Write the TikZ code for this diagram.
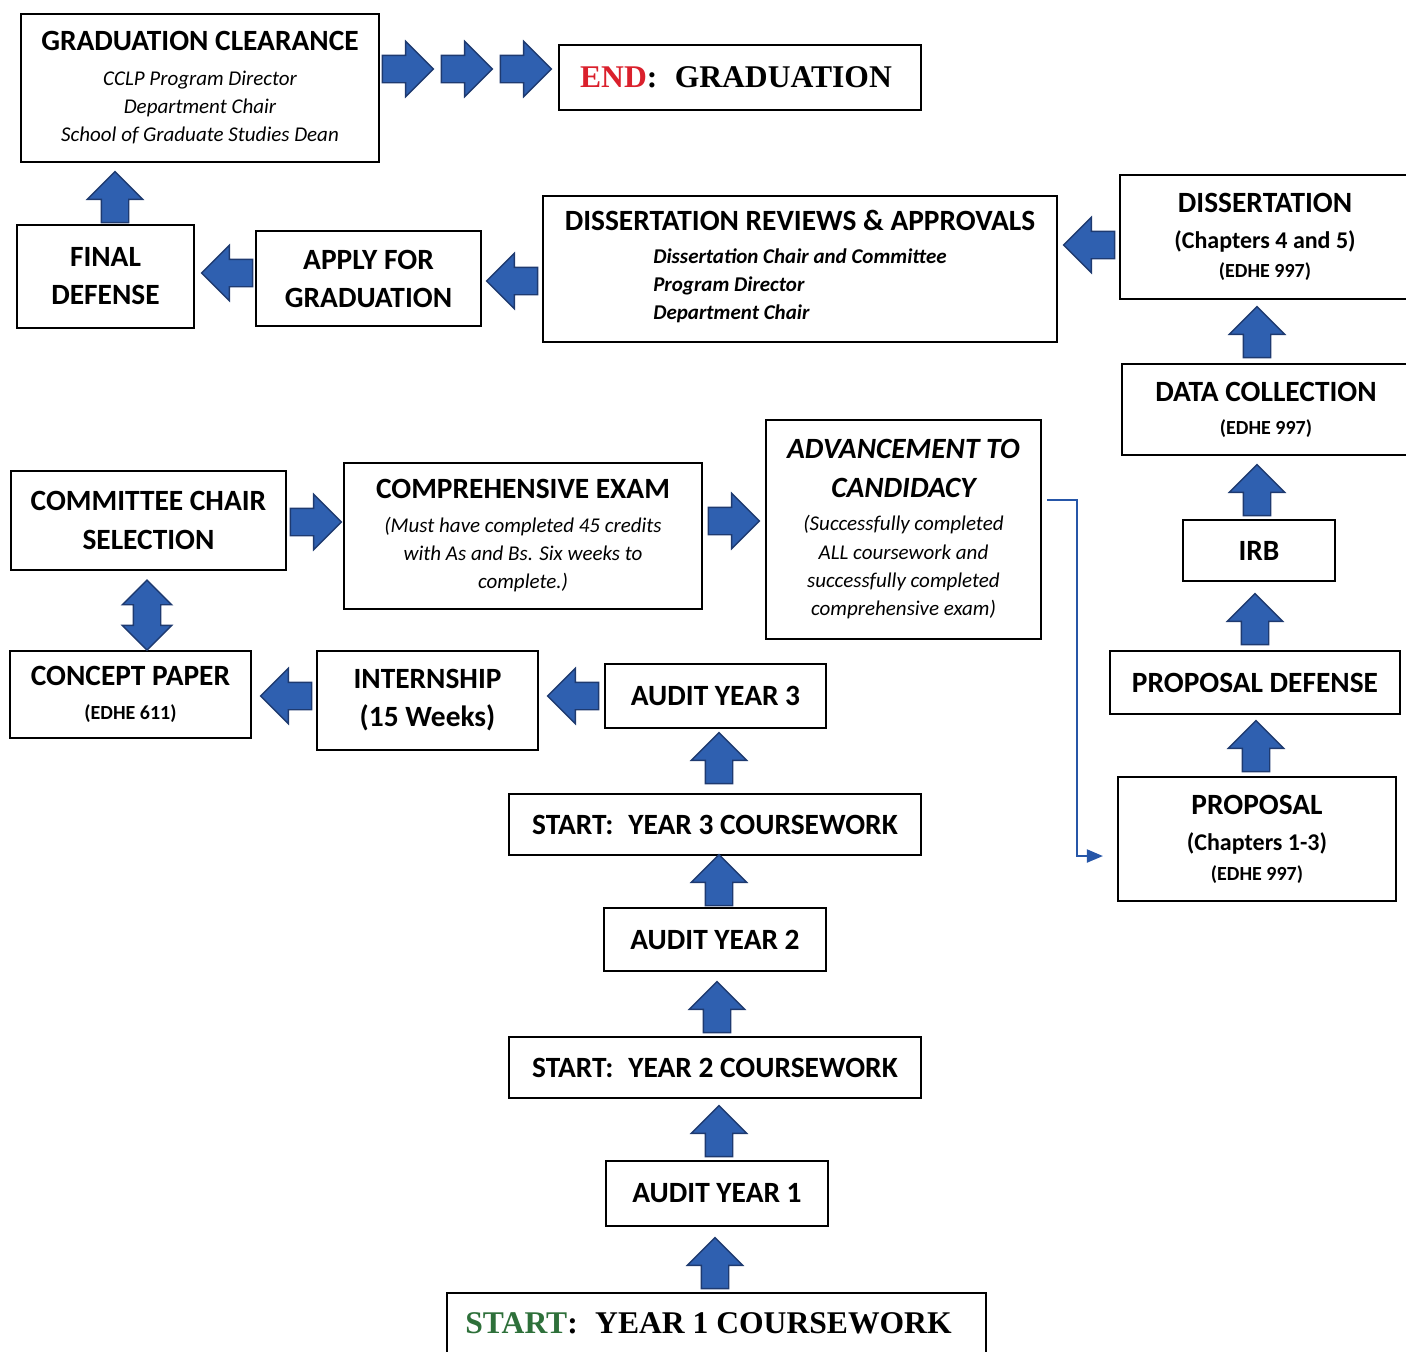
\documentclass[tikz,border=0pt]{standalone}
\usepackage{fontspec}
\setmainfont{Carlito}
\newfontfamily\serifbf{Liberation Serif}
\usetikzlibrary{shapes.arrows,arrows.meta}
\definecolor{arrowBlue}{RGB}{47,96,176}
\definecolor{arrowEdge}{RGB}{30,58,112}
\definecolor{linkBlue}{RGB}{38,86,168}
\definecolor{endRed}{RGB}{218,32,44}
\definecolor{startGreen}{RGB}{46,112,58}
\newcommand{\titleFont}{\fontsize{14.7}{19}\selectfont\upshape\bfseries}
\newcommand{\noteFont}{\fontsize{10.5}{14}\selectfont\itshape}
\newcommand{\subFont}{\fontsize{12}{14.5}\selectfont\bfseries}
\newcommand{\codeFont}{\fontsize{10}{14}\selectfont\bfseries}
\newcommand{\serifFont}{\fontsize{15.8}{19}\selectfont\serifbf\bfseries}
\tikzset{stepbox/.style 2 args={draw, line width=1.1pt, inner sep=0pt, align=center,
    minimum width=#1*0.5pt, minimum height=#2*0.5pt}}
\tikzstyle{blockArrow} = [single arrow, draw=arrowEdge, fill=arrowBlue, line width=.7pt,
  inner sep=6.5pt, single arrow head extend=7pt, minimum height=25.5pt, minimum width=0pt]
\tikzstyle{rightArrow} = [blockArrow, xshift=-3.5pt]
\tikzstyle{leftArrow} = [blockArrow, shape border rotate=180, xshift=3.5pt]
\tikzstyle{upArrow} = [blockArrow, shape border rotate=90, yshift=-3.5pt]
\tikzstyle{bothArrow} = [double arrow, shape border rotate=90, draw=arrowEdge, fill=arrowBlue,
  line width=.7pt, inner sep=6.5pt, double arrow head extend=5.5pt, minimum height=35pt, minimum width=0pt]
\tikzstyle{linkLine} = [linkBlue, line width=1pt, -{Triangle[length=8pt,width=6.5pt]}]

\begin{document}
\begin{tikzpicture}[x=0.5pt, y=-0.5pt]
  \useasboundingbox (0,0) rectangle (1406,1351);
  % top row
  \node[stepbox={358}{148}, font=\noteFont] (clear) at (200,88)
    {{\titleFont GRADUATION CLEARANCE}\\[3.5pt] CCLP Program Director\\ Department Chair\\ School of Graduate Studies Dean};
  \node[stepbox={362}{65}, font=\serifFont] (endg) at (740,77.5)
    {\textcolor{endRed}{END}:\hspace{.55em}GRADUATION\kern4pt};
  \node[rightArrow] (r1) at (408,69) {};
  \node[rightArrow] (r2) at (467,69) {};
  \node[rightArrow] (r3) at (526,69) {};
  % second row
  \node[stepbox={177}{103}, font=\titleFont] (final) at (105.5,276.5) {FINAL\\DEFENSE};
  \node[stepbox={225}{95}, font=\titleFont] (apply) at (368.5,278.5) {APPLY FOR\\GRADUATION};
  \node[stepbox={514}{146}, font=\noteFont\bfseries] (review) at (800,269)
    {{\titleFont DISSERTATION REVIEWS \& APPROVALS}\\[2.5pt]
     \begin{tabular}[t]{@{}l@{}}Dissertation Chair and Committee\\ Program Director\\ Department Chair\end{tabular}};
  \node[stepbox={290}{124}, font=\subFont] (diss) at (1265,237)
    {{\titleFont DISSERTATION}\\[3.5pt](Chapters 4 and 5)\\{\codeFont (EDHE 997)}};
  \node[upArrow] (u1) at (115,197) {};
  \node[leftArrow] (l1) at (227,273) {};
  \node[leftArrow] (l2) at (512,281) {};
  \node[leftArrow] (l3) at (1089,245) {};
  % right column
  \node[stepbox={288}{91}, font=\subFont] (data) at (1266,409.5)
    {{\titleFont DATA COLLECTION}\\[2pt]{\codeFont (EDHE 997)}};
  \node[stepbox={152}{61}, font=\titleFont] (irb) at (1259,550.5) {IRB};
  \node[stepbox={290}{63}, font=\titleFont] (pdef) at (1255,682.5) {PROPOSAL DEFENSE};
  \node[stepbox={278}{124}, font=\subFont] (prop) at (1257,839)
    {{\titleFont PROPOSAL}\\[3.5pt](Chapters 1-3)\\[.5pt]{\codeFont (EDHE 997)}};
  \node[upArrow] (u2) at (1257,332) {};
  \node[upArrow] (u3) at (1257,490) {};
  \node[upArrow] (u4) at (1255,619) {};
  \node[upArrow] (u5) at (1256,746) {};
  % middle rows
  \node[stepbox={275}{219}, font=\noteFont] (adv) at (903.5,529.5)
    {{\titleFont\itshape ADVANCEMENT TO}\\[5.5pt]{\titleFont\itshape CANDIDACY}\\[2.5pt](Successfully completed\\[.5pt]ALL coursework and\\successfully completed\\comprehensive exam)};
  \node[stepbox={358}{146}, font=\noteFont] (comp) at (523,536)
    {{\titleFont COMPREHENSIVE EXAM}\\[3pt](Must have completed 45 credits\\with As and Bs. Six weeks to\\complete.)};
  \node[stepbox={275}{99}, font=\titleFont] (chair) at (148.5,520.5) {COMMITTEE CHAIR\\[.5pt]SELECTION};
  \node[stepbox={241}{87}, font=\subFont] (concept) at (130.5,694.5)
    {{\titleFont CONCEPT PAPER}\\[2.5pt]{\codeFont (EDHE 611)}};
  \node[stepbox={221}{99}, font=\titleFont] (intern) at (427.5,700.5) {INTERNSHIP\\(15 Weeks)};
  \node[rightArrow] (r4) at (316,522) {};
  \node[rightArrow] (r5) at (734,521) {};
  \node[bothArrow] (both) at (147,615) {};
  \node[leftArrow] (l4) at (286,696) {};
  \node[leftArrow] (l5) at (573,696) {};
  % link to proposal
  \coordinate (linkStart) at ([xshift=2.5pt,yshift=14.75pt]adv.east);
  \coordinate (linkEnd) at ([xshift=-7pt,yshift=-8.5pt]prop.west);
  \draw[linkLine] (linkStart) -- ++(15pt,0) |- (linkEnd);
  % coursework column
  \node[stepbox={221}{64}, font=\titleFont] (audit3) at (715.5,696) {AUDIT YEAR 3};
  \node[stepbox={412}{61}, font=\titleFont] (start3) at (715,824.5) {START:\hspace{.5em}YEAR 3 COURSEWORK};
  \node[stepbox={222}{63}, font=\titleFont] (audit2) at (715,939.5) {AUDIT YEAR 2};
  \node[stepbox={412}{61}, font=\titleFont] (start2) at (715,1067.5) {START:\hspace{.5em}YEAR 2 COURSEWORK};
  \node[stepbox={222}{65}, font=\titleFont] (audit1) at (717,1193.5) {AUDIT YEAR 1};
  \node[stepbox={539}{60}, font=\serifFont] (start1) at (716.5,1323)
    {\textcolor{startGreen}{START}:\hspace{.55em}YEAR 1 COURSEWORK\kern8pt};
  \node[upArrow] (u6) at (719,758) {};
  \node[upArrow] (u7) at (719,880) {};
  \node[upArrow] (u8) at (717,1007) {};
  \node[upArrow] (u9) at (719,1131) {};
  \node[upArrow] (u10) at (715,1263) {};
\end{tikzpicture}
\end{document}
